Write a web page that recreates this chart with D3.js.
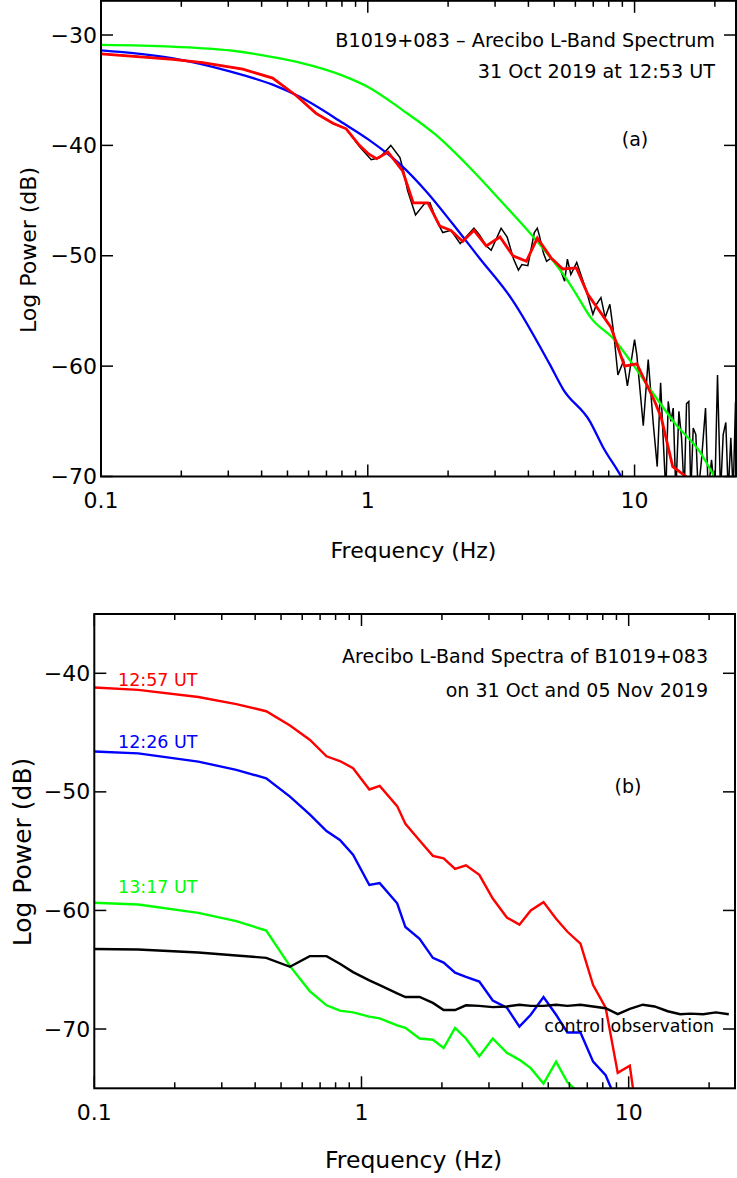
<!DOCTYPE html>
<html>
<head>
<meta charset="utf-8">
<script src="https://cdn.jsdelivr.net/npm/d3@7"></script>
<style>
  body { margin: 0; background: #fff; }
  svg { display: block; }
  text { font-family: "DejaVu Sans", sans-serif; fill: #000; }
</style>
</head>
<body>
<svg id="chart" width="737" height="1178"></svg>
<script>
// ---- panel (a): single spectrum, 31 Oct 2019 12:53 UT  [freq Hz, dB]
const rawSpectrumA = [
  [0.1, -31.7], [0.186, -32.2], [0.24, -32.5], [0.34, -33.1], [0.44, -33.9],
  [0.54, -35.5], [0.64, -37.1], [0.74, -38.0], [0.83, -38.5], [0.934, -40.15],
  [1.03, -41.3], [1.11, -41.1], [1.22, -40.0], [1.32, -41.1], [1.36, -42.3],
  [1.41, -44.1], [1.51, -46.3], [1.63, -45.3], [1.71, -45.2], [1.81, -46.8],
  [1.91, -47.9], [2.05, -47.7], [2.22, -48.9], [2.5, -47.5], [2.62, -48.1],
  [2.78, -49.1], [2.9, -49.5], [3.16, -47.5], [3.33, -48.3], [3.52, -50.3],
  [3.67, -51.3], [3.78, -50.8], [3.98, -50.9], [4.21, -47.9], [4.32, -47.5],
  [4.4, -48.2], [4.56, -49.8], [4.68, -50.5], [4.87, -50.2], [5.24, -51.1],
  [5.47, -52.3], [5.6, -50.3], [5.77, -51.7], [6.07, -50.6], [6.6, -53.2],
  [6.98, -55.3], [7.2, -54.4], [7.48, -53.8], [7.76, -55.6], [8.08, -54.4],
  [8.3, -56.5], [8.41, -57.7], [8.66, -60.8], [9.1, -59.5], [9.4, -61.8],
  [10.0, -57.6], [10.2, -59.0], [10.78, -65.4], [11.25, -59.4], [11.75, -65.2],
  [12.16, -69.1], [12.52, -61.5], [12.82, -66.9], [13.1, -71.5], [13.37, -63.2],
  [13.68, -65.0], [13.96, -63.8], [14.28, -71.5], [14.66, -64.1], [15.0, -66.5],
  [15.35, -71.5], [15.66, -63.4], [15.97, -63.2], [16.25, -71.5], [16.59, -65.6],
  [16.97, -66.2], [17.32, -71.5], [17.82, -68.5], [18.45, -63.8], [18.88, -71.5],
  [19.43, -68.5], [19.99, -71.5], [20.46, -60.8], [21.0, -71.5], [21.49, -66.2],
  [21.98, -65.1], [22.44, -71.5], [22.95, -66.5], [23.43, -71.5], [23.9, -63.2],
  [24.2, -71.5]
];
const smoothedA = [
  [0.1, -31.7], [0.186, -32.2], [0.24, -32.5], [0.34, -33.1], [0.44, -33.9],
  [0.54, -35.5], [0.64, -37.1], [0.74, -38.0], [0.83, -38.5], [0.93, -40.0],
  [1.01, -40.8], [1.08, -41.2], [1.19, -40.6], [1.35, -42.3], [1.48, -45.2],
  [1.68, -45.2], [1.86, -47.3], [2.05, -47.7], [2.27, -48.7], [2.5, -47.7],
  [2.78, -49.1], [3.13, -48.3], [3.5, -50.0], [3.93, -50.5], [4.32, -48.4],
  [4.87, -50.2], [5.38, -51.2], [6.05, -51.1], [6.68, -53.5], [8.16, -56.5],
  [9.17, -60.0], [10.2, -59.8], [11.9, -63.2], [12.6, -64.7], [13.9, -69.1],
  [15.6, -70.0], [16.5, -70.6]
];
const modelBlueA = [
  [0.1, -31.4], [0.184, -32.1], [0.304, -33.3], [0.44, -34.5], [0.556, -35.6],
  [0.81, -38.0], [1.01, -39.5], [1.32, -41.7], [1.66, -44.2], [2.08, -47.1],
  [2.62, -50.2], [3.46, -53.9], [4.8, -59.8], [5.4, -62.1], [6.8, -65.0],
  [7.6, -67.3], [8.9, -70.0], [9.5, -71.3]
];
const modelGreenA = [
  [0.1, -30.9], [0.184, -31.06], [0.304, -31.4], [0.44, -32.0], [0.556, -32.5],
  [0.81, -33.7], [1.01, -34.75], [1.35, -36.8], [1.81, -39.1], [2.41, -42.0],
  [3.2, -45.2], [4.28, -48.6], [5.7, -52.5], [6.05, -53.5], [6.85, -55.6],
  [8.4, -57.6], [9.83, -59.8], [11.6, -62.3], [14.3, -65.3], [17.5, -67.7],
  [19.9, -70.0], [21.0, -71.0]
];

// ---- panel (b): spectra on 31 Oct and 05 Nov 2019
const freqB = [0.1, 0.146, 0.245, 0.34, 0.44, 0.54, 0.64, 0.74, 0.83, 0.93,
  1.07, 1.17, 1.36, 1.46, 1.65, 1.85, 2.03, 2.24, 2.46, 2.76,
  3.1, 3.5, 3.9, 4.3, 4.8, 5.35, 5.9, 6.6, 7.36, 8.2,
  9.1, 10.1, 11.3, 12.5, 14.0, 15.6, 17.0, 19.0, 21.2, 23.7];
const red1257 = [-41.2, -41.4, -42.0, -42.6, -43.2, -44.4, -45.6, -47.0, -47.4, -48.0,
  -49.8, -49.5, -51.2, -52.7, -54.1, -55.4, -55.6, -56.5, -56.2, -57.0,
  -59.0, -60.6, -61.2, -60.0, -59.3, -60.7, -61.8, -62.8, -66.3, -68.2,
  -73.7, -73.1, -81.0];
const blue1226 = [-46.6, -46.75, -47.45, -48.15, -48.85, -50.4, -51.9, -53.3, -54.05, -55.3,
  -57.85, -57.7, -59.4, -61.4, -62.4, -64.0, -64.4, -65.25, -65.6, -66.0,
  -67.6, -68.2, -69.8, -68.8, -67.3, -68.8, -70.3, -70.3, -72.75, -73.9,
  -76.3];
const green1317 = [-59.35, -59.5, -60.2, -60.9, -61.7, -64.7, -66.8, -68.0, -68.45, -68.6,
  -68.95, -69.1, -69.7, -69.9, -70.8, -70.9, -71.6, -69.9, -70.8, -72.3,
  -70.8, -72.0, -72.6, -73.3, -74.6, -72.75, -74.5, -75.5];
const blackControl = [-63.25, -63.3, -63.55, -63.8, -64.0, -64.75, -63.85, -63.85, -64.5, -65.2,
  -65.9, -66.3, -67.0, -67.3, -67.3, -67.8, -68.4, -68.4, -68.0, -68.05,
  -68.15, -68.1, -67.95, -68.05, -68.05, -67.95, -68.05, -67.95, -68.1, -68.25,
  -68.75, -68.3, -67.95, -68.1, -68.5, -68.75, -68.7, -68.75, -68.6, -68.75];

const yTicksA = [-30, -40, -50, -60, -70];
const yTicksB = [-40, -50, -60, -70];
const xTickLabels = [0.1, 1, 10];

const svg = d3.select('#chart');

function drawFrame(g, x, y, yTicks, opt) {
  const [x0, x1] = x.range();
  const [y0, y1] = y.range();
  const minor = [];
  for (let d = 0.1; d < 100; d *= 10) {
    for (let k = 1; k < 10; k++) {
      const v = d * k;
      if (v >= x.domain()[0] * 0.999 && v <= x.domain()[1]) minor.push({ v, major: k === 1 });
    }
  }
  const ticks = g.append('g').attr('stroke', '#000').attr('stroke-width', 1.5);
  minor.forEach(t => {
    const len = t.major ? 12 : 6;
    const px = x(t.v);
    ticks.append('line').attr('x1', px).attr('x2', px).attr('y1', y0).attr('y2', y0 - len);
    ticks.append('line').attr('x1', px).attr('x2', px).attr('y1', y1).attr('y2', y1 + len);
  });
  yTicks.forEach(v => {
    ticks.append('line').attr('x1', x0).attr('x2', x0 + 12).attr('y1', y(v)).attr('y2', y(v));
    ticks.append('line').attr('x1', x1).attr('x2', x1 - 12).attr('y1', y(v)).attr('y2', y(v));
  });
  g.append('rect')
    .attr('x', x0).attr('y', y1)
    .attr('width', x1 - x0).attr('height', y0 - y1)
    .attr('fill', 'none').attr('stroke', '#000').attr('stroke-width', 2);

  g.selectAll('.ylab').data(yTicks).join('text')
    .attr('x', x0 - 4).attr('y', d => y(d))
    .attr('text-anchor', 'end').attr('dominant-baseline', 'central')
    .style('font-size', opt.tickSize + 'px')
    .text(d => '\u2212' + Math.abs(d));
  g.selectAll('.xlab').data(xTickLabels).join('text')
    .attr('x', d => x(d)).attr('y', y0 + opt.xLabelDy)
    .attr('text-anchor', 'middle')
    .style('font-size', opt.tickSize + 'px')
    .text(d => d);

  g.append('text')
    .attr('x', (x0 + x1) / 2 + opt.xTitleDx).attr('y', y0 + opt.xTitleDy)
    .attr('text-anchor', 'middle')
    .style('font-size', opt.titleSize + 'px')
    .text('Frequency (Hz)');
  g.append('text')
    .attr('transform', `translate(${opt.yTitleX},${opt.yTitleY}) rotate(-90)`)
    .attr('text-anchor', 'middle').attr('dominant-baseline', 'central')
    .style('font-size', opt.yTitleSize + 'px')
    .text('Log Power (dB)');
}

function clipFor(id, x, y) {
  svg.append('clipPath').attr('id', id).append('rect')
    .attr('x', x.range()[0]).attr('y', y.range()[1])
    .attr('width', x.range()[1] - x.range()[0])
    .attr('height', y.range()[0] - y.range()[1]);
  return `url(#${id})`;
}

// ---------- panel (a)
{
  const x = d3.scaleLog().domain([0.1, 24]).range([101, 736]);
  const y = d3.scaleLinear().domain([-70, -26.9]).range([476.5, 0.8]);
  const g = svg.append('g');
  const clip = clipFor('clipA', x, y);
  const lines = g.append('g').attr('clip-path', clip).attr('fill', 'none');
  const lin = d3.line().x(d => x(d[0])).y(d => y(d[1]));
  const smooth = d3.line().x(d => x(d[0])).y(d => y(d[1])).curve(d3.curveMonotoneX);

  lines.append('path').attr('d', lin(rawSpectrumA)).attr('stroke', '#000').attr('stroke-width', 1.5);
  lines.append('path').attr('d', smooth(modelBlueA)).attr('stroke', '#0000ff').attr('stroke-width', 2.3);
  lines.append('path').attr('d', smooth(modelGreenA)).attr('stroke', '#00ff00').attr('stroke-width', 2.3);
  lines.append('path').attr('d', lin(smoothedA)).attr('stroke', '#ff0000').attr('stroke-width', 2.8);

  drawFrame(g, x, y, yTicksA, {
    tickSize: 22, titleSize: 22, yTitleSize: 22, xLabelDy: 31, xTitleDy: 81, xTitleDx: -5,
    yTitleX: 28, yTitleY: 250
  });

  g.append('text').attr('x', 715).attr('y', 47).attr('text-anchor', 'end')
    .style('font-size', '19.2px').text('B1019+083 \u2013 Arecibo L-Band Spectrum');
  g.append('text').attr('x', 715).attr('y', 78).attr('text-anchor', 'end')
    .style('font-size', '19.2px').text('31 Oct 2019 at 12:53 UT');
  g.append('text').attr('x', 635).attr('y', 146).attr('text-anchor', 'middle')
    .style('font-size', '19px').text('(a)');
}

// ---------- panel (b)
{
  const x = d3.scaleLog().domain([0.1, 25]).range([94.3, 735]);
  const y = d3.scaleLinear().domain([-75, -35]).range([1088.3, 614]);
  const g = svg.append('g');
  const clip = clipFor('clipB', x, y);
  const lines = g.append('g').attr('clip-path', clip).attr('fill', 'none');
  const line = d3.line().x(d => x(d[0])).y(d => y(d[1]));
  const series = [
    { vals: red1257, color: '#ff0000' },
    { vals: blue1226, color: '#0000ff' },
    { vals: green1317, color: '#00ff00' },
    { vals: blackControl, color: '#000' }
  ];
  series.forEach(s => {
    const pts = s.vals.map((v, i) => [freqB[i], v]);
    lines.append('path').attr('d', line(pts)).attr('stroke', s.color).attr('stroke-width', 2.4);
  });

  drawFrame(g, x, y, yTicksB, {
    tickSize: 22, titleSize: 23.5, yTitleSize: 25, xLabelDy: 32, xTitleDy: 80, xTitleDx: -1,
    yTitleX: 22, yTitleY: 852
  });

  g.append('text').attr('x', 708).attr('y', 663).attr('text-anchor', 'end')
    .style('font-size', '19px').text('Arecibo L-Band Spectra of B1019+083');
  g.append('text').attr('x', 708).attr('y', 697).attr('text-anchor', 'end')
    .style('font-size', '19px').text('on 31 Oct and 05 Nov 2019');
  g.append('text').attr('x', 628).attr('y', 793).attr('text-anchor', 'middle')
    .style('font-size', '19px').text('(b)');

  const tags = [
    { t: '12:57 UT', c: '#ff0000', y: 686 },
    { t: '12:26 UT', c: '#0000ff', y: 748 },
    { t: '13:17 UT', c: '#00ff00', y: 893 }
  ];
  tags.forEach(d => g.append('text').attr('x', 118).attr('y', d.y)
    .style('font-size', '17.5px').style('fill', d.c).text(d.t));
  g.append('text').attr('x', 714).attr('y', 1032).attr('text-anchor', 'end')
    .style('font-size', '17.5px').text('control observation');
}
</script>
</body>
</html>
